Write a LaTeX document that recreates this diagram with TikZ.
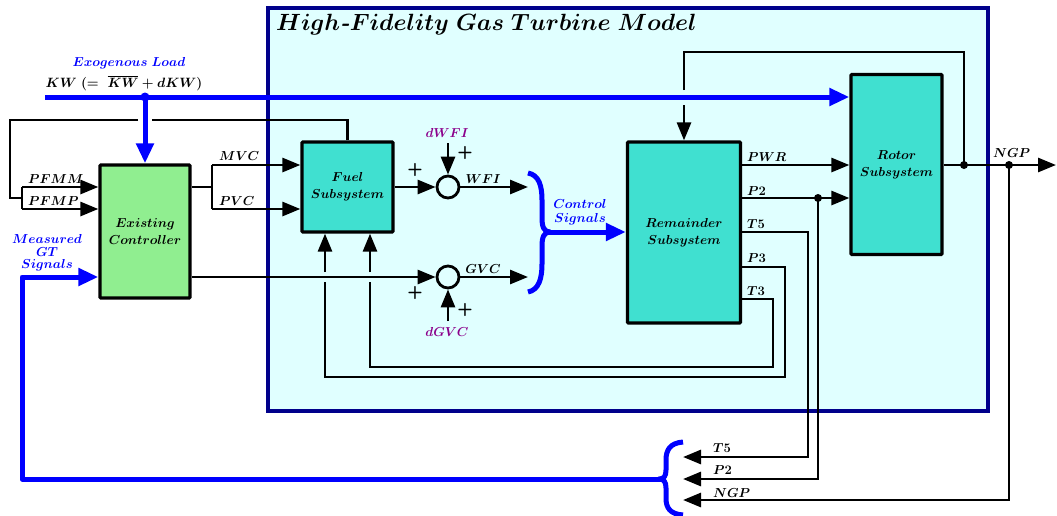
\RequirePackage{fix-cm}
\documentclass[tikz,border=0pt]{standalone}
\usepackage{amsmath}
\usetikzlibrary{arrows.meta}
\definecolor{turq}{RGB}{64,224,208}
\definecolor{lgreen}{RGB}{144,238,144}
\definecolor{lcyan}{RGB}{224,255,255}
\definecolor{navyb}{RGB}{0,0,139}
\definecolor{purp}{RGB}{139,0,139}
\newcommand\mlab[1]{{\boldmath$#1$}}
\newcommand\fbig{\fontsize{23.5}{26}\selectfont}
\newcommand\fmed{\fontsize{13}{17}\selectfont}
\newcommand\fsm{\fontsize{13}{15}\selectfont}
\newcommand\fkw{\fontsize{13.5}{15}\selectfont}
\newcommand\fcs{\fontsize{13}{14}\selectfont}
\newcommand\fgt{\fontsize{13}{12.5}\selectfont}
\newcommand\fpl{\fontsize{18}{18}\selectfont\sffamily\bfseries}
\newcommand\hyph{\mbox{\bfseries\itshape -}}
\begin{document}
\begin{tikzpicture}[x=1pt,y=-1pt,
  sig/.style={line width=2.8pt, black},
  sigarr/.style={sig, -{Triangle[length=18pt,width=14pt]}},
  bsig/.style={line width=5pt, blue, line join=round},
  bsigarr/.style={bsig, -{Triangle[length=20pt,width=17pt]}},
  blk/.style={draw, line width=3.3pt, rounded corners=1pt, inner sep=0pt, align=center, font=\fmed},
  lab/.style={font=\fsm, inner sep=0pt},
  blab/.style={lab, text=blue, align=center},
  sumc/.style={circle, draw, line width=2.8pt, minimum size=22pt, inner sep=0pt},
  plus/.style={font=\fpl, inner sep=0pt}]
\useasboundingbox (0,0) rectangle (1057,515);
% model frame
\node[draw=navyb, line width=4.5pt, fill=lcyan, minimum width=720pt, minimum height=403pt, inner sep=0pt] (model) at (628,209.5) {};
\node[anchor=base west, font=\fbig, inner sep=0pt] (title) at (276,30) {\mlab{High\hyph Fidelity\ Gas\ Turbine\ Model}};
% blocks
\node[blk, fill=lgreen, minimum width=90pt, minimum height=133pt] (ctrl) at (145,231.5) {\mlab{Existing}\\\mlab{Controller}};
\node[blk, fill=turq, minimum width=91pt, minimum height=90pt] (fuel) at (347.5,187) {\mlab{Fuel}\\\mlab{Subsystem}};
\node[blk, fill=turq, minimum width=113pt, minimum height=181pt] (rem) at (684,232.5) {\mlab{Remainder}\\\mlab{Subsystem}};
\node[blk, fill=turq, minimum width=91pt, minimum height=180pt] (rotor) at (896.5,164.5) {\mlab{Rotor}\\\mlab{Subsystem}};
\node[sumc] (s1) at (448,187) {};
\node[sumc] (s2) at (448,277) {};
% exogenous load
\node[blab] (exo) at (129,63) {\mlab{Exogenous\ Load}};
\node[lab, font=\fkw] (kw) at (124,83) {\mlab{KW\ (=\ \overline{KW}+dKW)}};
\coordinate (loadL) at (45,97);
\coordinate (ld) at (145,97);
\draw[bsigarr] (loadL) -- (loadL -| rotor.west);
\draw[bsigarr] (ld) -- (ctrl.north);
\fill[blue] (ld) circle (4.5pt);
% top feedback loop
\coordinate (tl) at (10,120);
\coordinate (tlj) at (10,198);
\coordinate (pj) at (22,198);
\coordinate (pfmm) at (22,187);
\coordinate (pfmp) at (22,209);
\draw[sig] (fuel.north) -- (fuel.north |- tl) -- (152,120);
\draw[sig] (138,120) -- (tl) -- (tlj) -- (pj);
\draw[sig] (pfmm) -- (pfmp);
\draw[sigarr] (pfmm) -- (pfmm -| ctrl.west);
\draw[sigarr] (pfmp) -- (pfmp -| ctrl.west);
\node[lab, anchor=base west] at (28,183) {\mlab{PFMM}};
\node[lab, anchor=base west] at (28,205) {\mlab{PFMP}};
% controller outputs
\coordinate (cj) at (212,187);
\coordinate (mvc) at (212,165);
\coordinate (pvc) at (212,209);
\draw[sig] (cj -| ctrl.east) -- (cj);
\draw[sig] (mvc) -- (pvc);
\draw[sigarr] (mvc) -- (mvc -| fuel.west);
\draw[sigarr] (pvc) -- (pvc -| fuel.west);
\node[lab, anchor=base west] at (219,160) {\mlab{MVC}};
\node[lab, anchor=base west] at (219,205) {\mlab{PVC}};
% fuel path
\draw[sigarr] (fuel.east) -- (s1.west);
\node[plus] at (415,170) {+};
\coordinate (dwfi) at (448,143);
\draw[sigarr] (dwfi) -- (s1.north);
\node[lab, text=purp] at (447,133) {\mlab{dWFI}};
\node[plus] at (465,153) {+};
\coordinate (wfi) at (528,187);
\draw[sigarr] (s1.east) -- (wfi);
\node[lab, anchor=base] at (483,183) {\mlab{WFI}};
% GVC path
\draw[sigarr] (ctrl.east |- s2) -- (s2.west);
\node[plus] at (415,293) {+};
\coordinate (dgvc) at (448,321);
\draw[sigarr] (dgvc) -- (s2.south);
\node[lab, text=purp] at (447,332) {\mlab{dGVC}};
\node[plus] at (465,310) {+};
\coordinate (gvc) at (528,277);
\draw[sigarr] (s2.east) -- (gvc);
\node[lab, anchor=base] at (483,273) {\mlab{GVC}};
% control signals brace
\draw[bsig] (528,173) .. controls (539,175) and (542,186) .. (542,200) -- (542,218)
  .. controls (542,227) and (544,232) .. (550,232)
  .. controls (544,232) and (542,237) .. (542,246) -- (542,264)
  .. controls (542,278) and (539,290) .. (528,292);
\coordinate (cs) at (549,232);
\draw[bsigarr] (cs) -- (cs -| rem.west);
\node[blab, font=\fcs] (ctlsig) at (580,212) {\mlab{Control}\\\mlab{Signals}};
% remainder top input
\coordinate (rt) at (684,52);
\coordinate (rj) at (964,52);
\coordinate (ngp1) at (964,165);
\coordinate (rg1) at (684,90);
\coordinate (rg2) at (684,105);
\draw[sig] (rg1) -- (rt) -- (rj) -- (ngp1);
\draw[sigarr] (rg2) -- (rem.north);
% remainder outputs
\draw[sigarr] (rem.east |- ngp1) -- (rotor.west |- ngp1);
\node[lab, anchor=base west] at (747,161) {\mlab{PWR}};
\coordinate (p2d) at (818,198);
\draw[sigarr] (rem.east |- p2d) -- (rotor.west |- p2d);
\node[lab, anchor=base west] at (747,195) {\mlab{P2}};
\coordinate (t5c) at (808,232);
\coordinate (t5b) at (808,457);
\coordinate (fb1) at (683,457);
\draw[sigarr] (rem.east |- t5c) -- (t5c) -- (t5b) -- (fb1);
\node[lab, anchor=base west] at (747,228) {\mlab{T5}};
\coordinate (p2b) at (818,479);
\coordinate (fb2) at (683,479);
\draw[sigarr] (p2d) -- (p2b) -- (fb2);
\fill (p2d) circle (4pt);
% P3 loop
\coordinate (p3c) at (785,267);
\coordinate (p3b) at (785,377);
\coordinate (p3l) at (325,377);
\coordinate (p3g) at (325,282);
\coordinate (p3u) at (325,272);
\draw[sig] (rem.east |- p3c) -- (p3c) -- (p3b) -- (p3l) -- (p3g);
\draw[sigarr] (p3u) -- (p3u |- fuel.south);
\node[lab, anchor=base west] at (747,262) {\mlab{P3}};
% T3 loop
\coordinate (t3c) at (773,299);
\coordinate (t3b) at (773,367);
\coordinate (t3l) at (370,367);
\coordinate (t3g) at (370,282);
\coordinate (t3u) at (370,272);
\draw[sig] (rem.east |- t3c) -- (t3c) -- (t3b) -- (t3l) -- (t3g);
\draw[sigarr] (t3u) -- (t3u |- fuel.south);
\node[lab, anchor=base west] at (747,295) {\mlab{T3}};
% rotor output
\coordinate (ngpE) at (1056,165);
\coordinate (ngp2) at (1009,165);
\coordinate (ngpb) at (1009,500);
\coordinate (fb3) at (683,500);
\draw[sigarr] (rotor.east |- ngp1) -- (ngpE);
\draw[sigarr] (ngp2) -- (ngpb) -- (fb3);
\fill (ngp1) circle (4pt);
\fill (ngp2) circle (4pt);
\node[lab, anchor=base west] at (993,157) {\mlab{NGP}};
% feedback labels
\node[lab, anchor=base west] at (713,452) {\mlab{T5}};
\node[lab, anchor=base west] at (713,474) {\mlab{P2}};
\node[lab, anchor=base west] at (713,497) {\mlab{NGP}};
% measured signals brace
\draw[bsig] (683,442) .. controls (670,443) and (666,450) .. (666,460) -- (666,470)
  .. controls (666,476) and (664,479) .. (659,479)
  .. controls (664,479) and (666,482) .. (666,488) -- (666,498)
  .. controls (666,508) and (670,514) .. (683,515);
\coordinate (bt) at (660,479);
\coordinate (bl) at (22,479);
\coordinate (bu) at (22,277);
\draw[bsigarr] (bt) -- (bl) -- (bu) -- (bu -| ctrl.west);
\node[blab, font=\fgt] (mgt) at (47,253) {\mlab{Measured}\\\mlab{GT}\\\mlab{Signals}};
\end{tikzpicture}
\end{document}
